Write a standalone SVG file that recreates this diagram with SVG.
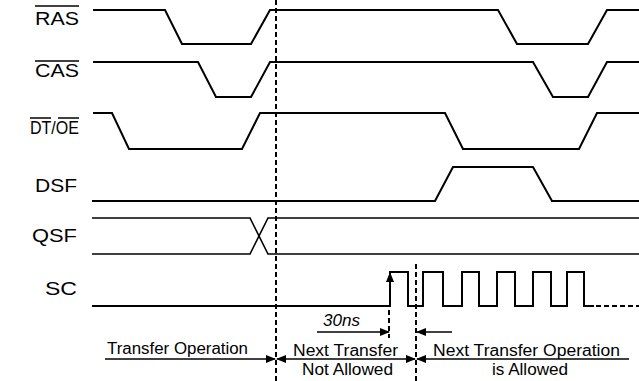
<svg xmlns="http://www.w3.org/2000/svg" width="639" height="381" viewBox="0 0 639 381">
<defs>
<style>
.w{fill:none;stroke:#000;stroke-width:2;stroke-linejoin:miter}
.t{fill:none;stroke:#000;stroke-width:1.6}
.ol{stroke:#000;stroke-width:1.5}
.d{fill:none;stroke:#000;stroke-width:2;stroke-dasharray:5 3}
.lbl{font-family:"Liberation Sans",Arial,sans-serif;font-size:18px;fill:#000}
.txt{font-family:"Liberation Sans",Arial,sans-serif;font-size:16px;fill:#000}
.a{fill:none;stroke:#000;stroke-width:1.5}
</style>
<marker id="ah" markerWidth="10" markerHeight="8" refX="9" refY="4" orient="auto-start-reverse" markerUnits="userSpaceOnUse">
<path d="M0,0 L10,4 L0,8 Z" fill="#000"/>
</marker>
</defs>
<rect width="639" height="381" fill="#fff"/>

<g id="RAS">
<text class="lbl" x="35" y="25" textLength="44" lengthAdjust="spacingAndGlyphs">RAS</text>
<line class="ol" x1="35" y1="6" x2="79" y2="6"/>
<path class="w" d="M93 10 H165 L182 44 H251 L270 10 H498 L517 44 H588 L607 10 H639"/>
</g>

<g id="CAS">
<text class="lbl" x="35" y="77" textLength="44" lengthAdjust="spacingAndGlyphs">CAS</text>
<line class="ol" x1="35" y1="61" x2="79" y2="61"/>
<path class="w" d="M93 62 H198 L216 97 H251 L270 62 H533 L553 97 H588 L607 62 H639"/>
</g>

<g id="DTOE">
<text class="lbl" x="30" y="134" textLength="49" lengthAdjust="spacingAndGlyphs">DT/OE</text>
<line class="ol" x1="30" y1="118" x2="51" y2="118"/>
<line class="ol" x1="58" y1="118" x2="79" y2="118"/>
<path class="w" d="M93 113 H112 L129 149 H242 L260 113 H445 L463 149 H579 L597 113 H639"/>
</g>

<g id="DSF">
<text class="lbl" x="35" y="192" textLength="42" lengthAdjust="spacingAndGlyphs">DSF</text>
<path class="w" d="M92 201 H435 L453 167 H533 L552 201 H639"/>
</g>

<g id="QSF">
<text class="lbl" x="32" y="242" textLength="45" lengthAdjust="spacingAndGlyphs">QSF</text>
<path class="t" d="M92 218 H250 L268 254 H639"/>
<path class="t" d="M92 254 H250 L268 218 H639"/>
</g>

<g id="SC">
<text class="lbl" x="45" y="295" textLength="32" lengthAdjust="spacingAndGlyphs">SC</text>
<path class="w" d="M92 306 H390 V272 H408 V306 H423 V272 H443 V306 H462 V272 H479 V306 H497 V272 H515 V306 H533 V272 H551 V306 H567 V272 H584 V306 H594"/>
<path class="d" d="M596 306 H639" stroke-width="1.8"/>
</g>

<g id="connectors">
<line class="d" x1="276" y1="0" x2="276" y2="381"/>
<line class="d" x1="416" y1="264" x2="416" y2="381"/>
<line class="d" x1="389" y1="310" x2="389" y2="338"/>
<line class="a" x1="390" y1="300" x2="390" y2="273" marker-end="url(#ah)"/>
<line class="a" x1="317" y1="332" x2="389" y2="332" marker-end="url(#ah)"/>
<line class="a" x1="452" y1="332" x2="417" y2="332" marker-end="url(#ah)"/>
<line class="a" x1="105" y1="359" x2="275" y2="359" marker-end="url(#ah)"/>
<line class="a" x1="277" y1="359" x2="415" y2="359" marker-start="url(#ah)" marker-end="url(#ah)"/>
<line class="a" x1="417" y1="359" x2="629" y2="359" marker-start="url(#ah)"/>
</g>

<g id="labels">
<text class="txt" x="107" y="354" textLength="141" lengthAdjust="spacingAndGlyphs">Transfer Operation</text>
<text class="txt" x="323" y="326" font-style="italic" font-size="14" textLength="37" lengthAdjust="spacingAndGlyphs">30ns</text>
<text class="txt" x="293" y="356" textLength="105" lengthAdjust="spacingAndGlyphs">Next Transfer</text>
<text class="txt" x="302" y="375" textLength="91" lengthAdjust="spacingAndGlyphs">Not Allowed</text>
<text class="txt" x="433" y="356" textLength="187" lengthAdjust="spacingAndGlyphs">Next Transfer Operation</text>
<text class="txt" x="492" y="375" textLength="76" lengthAdjust="spacingAndGlyphs">is Allowed</text>
</g>
</svg>
